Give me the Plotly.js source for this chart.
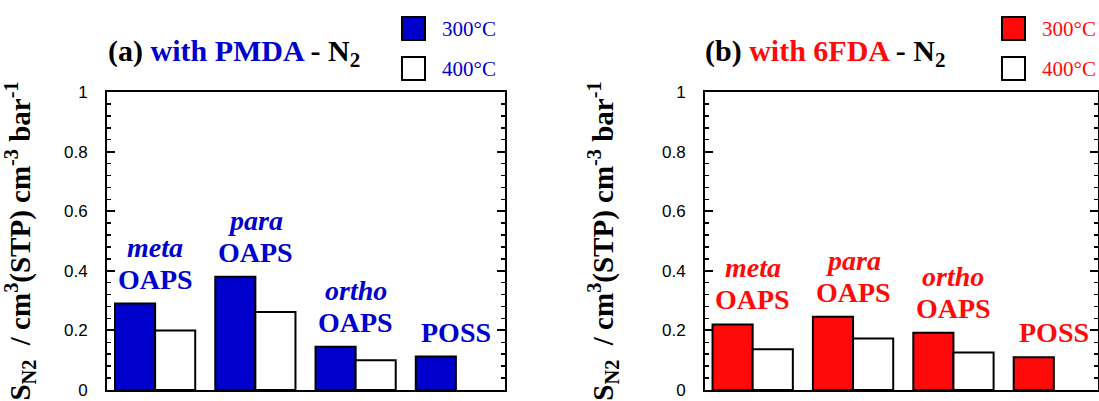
<!DOCTYPE html>
<html>
<head>
<meta charset="utf-8">
<script src="https://cdn.plot.ly/plotly-3.0.1.min.js"></script>
<style>html,body{margin:0;padding:0;background:#fff;}#chart{width:1099px;height:401px;}</style>
</head>
<body>
<div id="chart"></div>
<script>
// ---- data ----
const categories = ['meta', 'para', 'ortho', 'POSS'];
const labelTop = ['meta', 'para', 'ortho', ''];
const labelBottom = ['OAPS', 'OAPS', 'OAPS', 'POSS'];
const seriesNames = ['300°C', '400°C'];
const pmda300 = [0.29, 0.38, 0.145, 0.112];
const pmda400 = [0.20, 0.262, 0.10, null];
const fda300 = [0.22, 0.246, 0.192, 0.11];
const fda400 = [0.137, 0.173, 0.126, null];
const yTicks = [0, 0.2, 0.4, 0.6, 0.8, 1];

// ---- styling ----
const W = 1099, H = 401;
const BLUE = '#0000cc', RED = '#ff0a0a';
const SERIF = 'Liberation Serif, Times New Roman, serif';
const SANS = 'Liberation Sans, Arial, sans-serif';
const px = x => x / W;
const py = y => 1 - y / H;

const yTitle = '<b>S<sub>N2</sub>  / cm<sup>3</sup>(STP) cm<sup>-3</sup> bar<sup>-1</sup></b>';

function xAxis(d0, d1, r0, r1, anchor) {
  return {
    domain: [px(d0), px(d1)], range: [r0, r1], type: 'category', anchor: anchor,
    showline: true, linewidth: 2, linecolor: '#000', mirror: true,
    ticks: '', showticklabels: false, showgrid: false, zeroline: false, fixedrange: true
  };
}
function yAxis(anchor) {
  return {
    domain: [py(390), py(92)], range: [0, 1], anchor: anchor,
    tickmode: 'array', tickvals: yTicks, ticktext: yTicks.map(String),
    ticks: 'inside', ticklen: 8, tickwidth: 2, tickcolor: '#000',
    minor: {dtick: 0.04, tick0: 0, ticks: 'inside', ticklen: 4, tickwidth: 1.5, tickcolor: '#000', showgrid: false},
    showline: true, linewidth: 2, linecolor: '#000', mirror: 'allticks',
    showgrid: false, zeroline: false, fixedrange: true,
    tickfont: {family: SANS, size: 17, color: '#000'}, ticklabelstandoff: 14,
    title: {text: yTitle, font: {family: SERIF, size: 29, color: '#000'}, standoff: 40}
  };
}

function barTrace(vals, fill, xa, ya, name) {
  return {
    type: 'bar', x: categories, y: vals, xaxis: xa, yaxis: ya, name: name,
    marker: {color: fill, line: {color: '#000', width: 2}}, hoverinfo: 'skip'
  };
}

const data = [
  barTrace(pmda300, BLUE, 'x', 'y', seriesNames[0]),
  barTrace(pmda400, '#ffffff', 'x', 'y', seriesNames[1]),
  barTrace(fda300, RED, 'x2', 'y2', seriesNames[0]),
  barTrace(fda400, '#ffffff', 'x2', 'y2', seriesNames[1])
];

const annotations = [];
function groupLabels(v300, v400, xa, ya, color) {
  categories.forEach((c, i) => {
    const top = Math.max(v300[i] || 0, v400[i] || 0);
    annotations.push({xref: xa, yref: ya, x: c, y: top, yanchor: 'bottom', yshift: 7,
      text: '<b>' + labelBottom[i] + '</b>', showarrow: false,
      font: {family: SERIF, size: 28, color: color}});
    if (labelTop[i]) {
      annotations.push({xref: xa, yref: ya, x: c, y: top, yanchor: 'bottom', yshift: 39,
        text: '<b><i>' + labelTop[i] + '</i></b>', showarrow: false,
        font: {family: SERIF, size: 28, color: color}});
    }
  });
}
groupLabels(pmda300, pmda400, 'x', 'y', BLUE);
groupLabels(fda300, fda400, 'x2', 'y2', RED);

// panel titles
annotations.push({xref: 'paper', yref: 'paper', x: px(106), y: py(53), xanchor: 'left', yanchor: 'middle',
  showarrow: false, font: {family: SERIF, size: 30, color: '#000'},
  text: '<b>(a) <span style="color:' + BLUE + '">with PMDA</span> - N<sub>2</sub></b>'});
annotations.push({xref: 'paper', yref: 'paper', x: px(703), y: py(53), xanchor: 'left', yanchor: 'middle',
  showarrow: false, font: {family: SERIF, size: 30, color: '#000'},
  text: '<b>(b) <span style="color:' + RED + '">with 6FDA</span> - N<sub>2</sub></b>'});

// legends (swatches + labels)
const shapes = [];
function legend(x0, color) {
  const rows = [[17, color], [57, '#ffffff']];
  rows.forEach((r, k) => {
    shapes.push({type: 'rect', xref: 'paper', yref: 'paper', x0: px(x0), x1: px(x0 + 23),
      y0: py(r[0] + 23), y1: py(r[0]), fillcolor: r[1], line: {color: '#000', width: 2}});
    annotations.push({xref: 'paper', yref: 'paper', x: px(x0 + 38), y: py(r[0] + 12),
      xanchor: 'left', yanchor: 'middle', showarrow: false, text: seriesNames[k],
      font: {family: SERIF, size: 21, color: color}});
  });
}
legend(402, BLUE);
legend(1002, RED);

const layout = {
  width: W, height: H, margin: {l: 0, r: 0, t: 0, b: 0},
  paper_bgcolor: '#fff', plot_bgcolor: '#fff', showlegend: false,
  font: {family: SERIF},
  barmode: 'group', bargap: 0.2, bargroupgap: 0,
  xaxis: xAxis(107, 505, -0.48, 3.49, 'y'),
  yaxis: yAxis('x'),
  xaxis2: xAxis(705, 1098, -0.475, 3.44, 'y2'),
  yaxis2: yAxis('x2'),
  annotations: annotations, shapes: shapes
};

Plotly.newPlot('chart', data, layout, {displayModeBar: false, staticPlot: true});
</script>
</body>
</html>
